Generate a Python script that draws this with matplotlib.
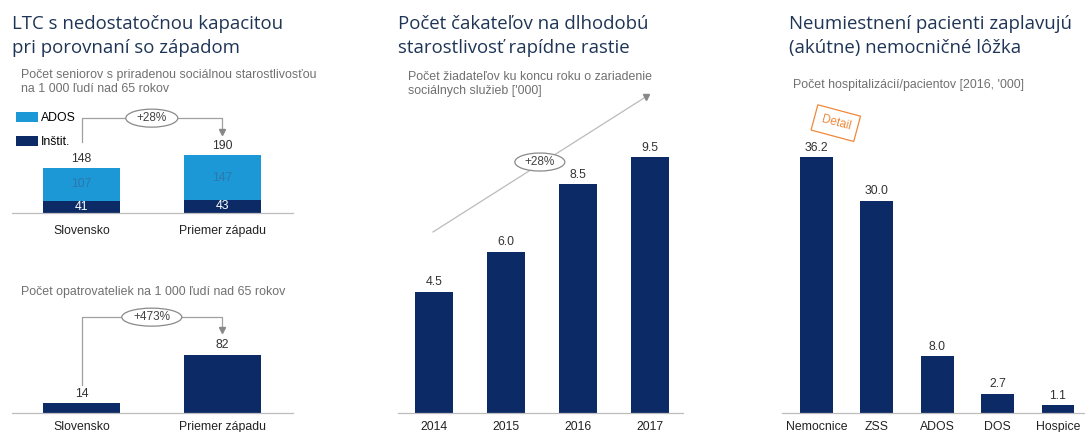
import numpy as np
import matplotlib.pyplot as plt
from matplotlib.patches import Ellipse

# --- data -------------------------------------------------------------
ltc_regions = ["Slovensko", "Priemer západu"]
ltc_ados = [107, 147]
ltc_instit = [41, 43]
carers = [14, 82]

wait_years = ["2014", "2015", "2016", "2017"]
wait_values = [4.5, 6.0, 8.5, 9.5]

hosp_types = ["Nemocnice", "ZSS", "ADOS", "DOS", "Hospice"]
hosp_values = [36.2, 30.0, 8.0, 2.7, 1.1]

# --- style ------------------------------------------------------------
NAVY = "#0c2a66"
LIGHT = "#1b98d5"
TITLE = "#1f3556"
GREY = "#707070"
LINE = "#a0a0a0"
ORANGE = "#f0883a"
TXT = "#333333"

W, H = 1085, 432
plt.rcParams["font.family"] = ["Liberation Sans", "DejaVu Sans"]

fig = plt.figure(figsize=(W / 100, H / 100), dpi=100)
fig.patch.set_facecolor("white")


def px_axes(x0, x1, ytop, ybot):
    return fig.add_axes([x0 / W, 1 - ybot / H, (x1 - x0) / W, (ybot - ytop) / H])


def style(ax, pad):
    for s in ["top", "right", "left"]:
        ax.spines[s].set_visible(False)
    ax.spines["bottom"].set_color("#bdbdbd")
    ax.spines["bottom"].set_linewidth(0.9)
    ax.set_yticks([])
    ax.tick_params(axis="x", length=0, pad=pad, labelsize=8.8, labelcolor="#222222")
    ax.set_facecolor("none")


def value_labels(ax, xs, vals, fmt, size=8.8):
    for x, v in zip(xs, vals):
        ax.annotate(fmt.format(v), (x, v), xytext=(0, 2.5), textcoords="offset points",
                    ha="center", va="bottom", fontsize=size, color=TXT)


def px_to_data(ax, wpx, hpx):
    x0, x1 = ax.get_xlim()
    y0, y1 = ax.get_ylim()
    bb = ax.get_position()
    return wpx * (x1 - x0) / (bb.width * W), hpx * (y1 - y0) / (bb.height * H)


def pill(ax, x, y, text, wpx, hpx=18):
    w, h = px_to_data(ax, wpx, hpx)
    ax.add_patch(Ellipse((x, y), w, h, fc="white", ec="#8a8a8a", lw=0.9, clip_on=False, zorder=5))
    ax.text(x, y, text, ha="center", va="center", fontsize=8.5, color="#444444", zorder=6)


def bracket(ax, y_top, y_left_end, y_right_end, label, wpx):
    ax.plot([0, 0, 1, 1], [y_left_end, y_top, y_top, y_right_end],
            color=LINE, lw=0.9, clip_on=False)
    ax.plot([1], [y_right_end], marker="v", ms=4, color="#888888", clip_on=False)
    pill(ax, 0.5, y_top, label, wpx)


# --- titles -----------------------------------------------------------
title_kw = dict(fontsize=13.4, color=TITLE, family=["Open Sans", "DejaVu Sans"], va="center")
fig.text(12 / W, 1 - 24 / H, "LTC s nedostatočnou kapacitou", **title_kw)
fig.text(12 / W, 1 - 48 / H, "pri porovnaní so západom", **title_kw)
fig.text(398 / W, 1 - 24 / H, "Počet čakateľov na dlhodobú", **title_kw)
fig.text(398 / W, 1 - 48 / H, "starostlivosť rapídne rastie", **title_kw)
fig.text(789 / W, 1 - 24 / H, "Neumiestnení pacienti zaplavujú", **title_kw)
fig.text(789 / W, 1 - 48 / H, "(akútne) nemocničné lôžka", **title_kw)

sub_kw = dict(fontsize=8.9, color=GREY, va="center")
fig.text(21 / W, 1 - 75 / H, "Počet seniorov s priradenou sociálnou starostlivosťou", **sub_kw)
fig.text(21 / W, 1 - 89 / H, "na 1 000 ľudí nad 65 rokov", **sub_kw)
fig.text(21 / W, 1 - 292 / H, "Počet opatrovateliek na 1 000 ľudí nad 65 rokov", **sub_kw)
fig.text(408 / W, 1 - 77 / H, "Počet žiadateľov ku koncu roku o zariadenie", **sub_kw)
fig.text(408 / W, 1 - 91 / H, "sociálnych služieb ['000]", **sub_kw)
fig.text(793 / W, 1 - 85 / H, "Počet hospitalizácií/pacientov [2016, '000]", **sub_kw)

# --- panel 1, top: stacked bars ----------------------------------------
ax1 = px_axes(12, 293, 95, 213)
x1 = np.arange(len(ltc_regions))
ax1.set_xlim(-0.495, 1.505)
ax1.set_ylim(0, 118 / 0.304)
b_inst = ax1.bar(x1, ltc_instit, width=0.548, color=NAVY, label="Inštit.")
b_ados = ax1.bar(x1, ltc_ados, width=0.548, bottom=ltc_instit, color=LIGHT, label="ADOS")
ax1.bar_label(b_inst, label_type="center", color="white", fontsize=8.8)
ax1.bar_label(b_ados, label_type="center", color="#2f78ab", fontsize=8.8)
totals = [a + b for a, b in zip(ltc_ados, ltc_instit)]
value_labels(ax1, x1, totals, "{}")
ax1.set_xticks(x1, ltc_regions)
style(ax1, 8.5)
bracket(ax1, 312, 232, 266, "+28%", 52)
ax1.legend(handles=[b_ados, b_inst], loc="upper left", bbox_to_anchor=(16 / W, 1 - 112 / H),
           bbox_transform=fig.transFigure, frameon=False, fontsize=8.8,
           handlelength=1.8, handleheight=0.9, labelspacing=0.95, handletextpad=0.25,
           borderpad=0, borderaxespad=0)

# --- panel 1, bottom: carers -------------------------------------------
ax2 = px_axes(12, 293, 300, 413)
ax2.set_xlim(-0.495, 1.505)
ax2.set_ylim(0, 113 / 0.71)
ax2.bar(x1, carers, width=0.548, color=NAVY)
value_labels(ax2, x1, carers, "{}")
ax2.set_xticks(x1, ltc_regions)
style(ax2, 6)
bracket(ax2, 135, 40, 117, "+473%", 60)

# --- panel 2: waiting list ---------------------------------------------
ax3 = px_axes(398, 683, 90, 413)
x3 = np.arange(len(wait_years))
ax3.set_xlim(-0.5, 3.458)
ax3.set_ylim(0, 323 / 26.9)
ax3.bar(x3, wait_values, width=0.54, color=NAVY)
value_labels(ax3, x3, wait_values, "{:.1f}")
ax3.set_xticks(x3, wait_years)
style(ax3, 6)
ax3.plot([-0.014, 2.94], [6.73, 11.75], color="#bbbbbb", lw=0.9, clip_on=False)
ax3.plot([2.94], [11.75], marker="v", ms=4, color="#888888", clip_on=False)
pill(ax3, 1.47, 9.33, "+28%", 50)

# --- panel 3: hospital load --------------------------------------------
ax4 = px_axes(782, 1085, 100, 413)
x4 = np.arange(len(hosp_types))
ax4.set_xlim(-0.571, 4.447)
ax4.set_ylim(0, 313 / 7.07)
ax4.bar(x4, hosp_values, width=0.546, color=NAVY)
value_labels(ax4, x4, hosp_values, "{:.1f}")
ax4.set_xticks(x4, hosp_types)
style(ax4, 6)
ax4.text(0.32, 41.0, "Detail", rotation=-15, ha="center", va="center", fontsize=8.5,
         color=ORANGE, clip_on=False, rotation_mode="anchor",
         bbox=dict(boxstyle="square,pad=0.6", fc="white", ec=ORANGE, lw=0.9))

fig.savefig("out.png", dpi=100, facecolor="white")
